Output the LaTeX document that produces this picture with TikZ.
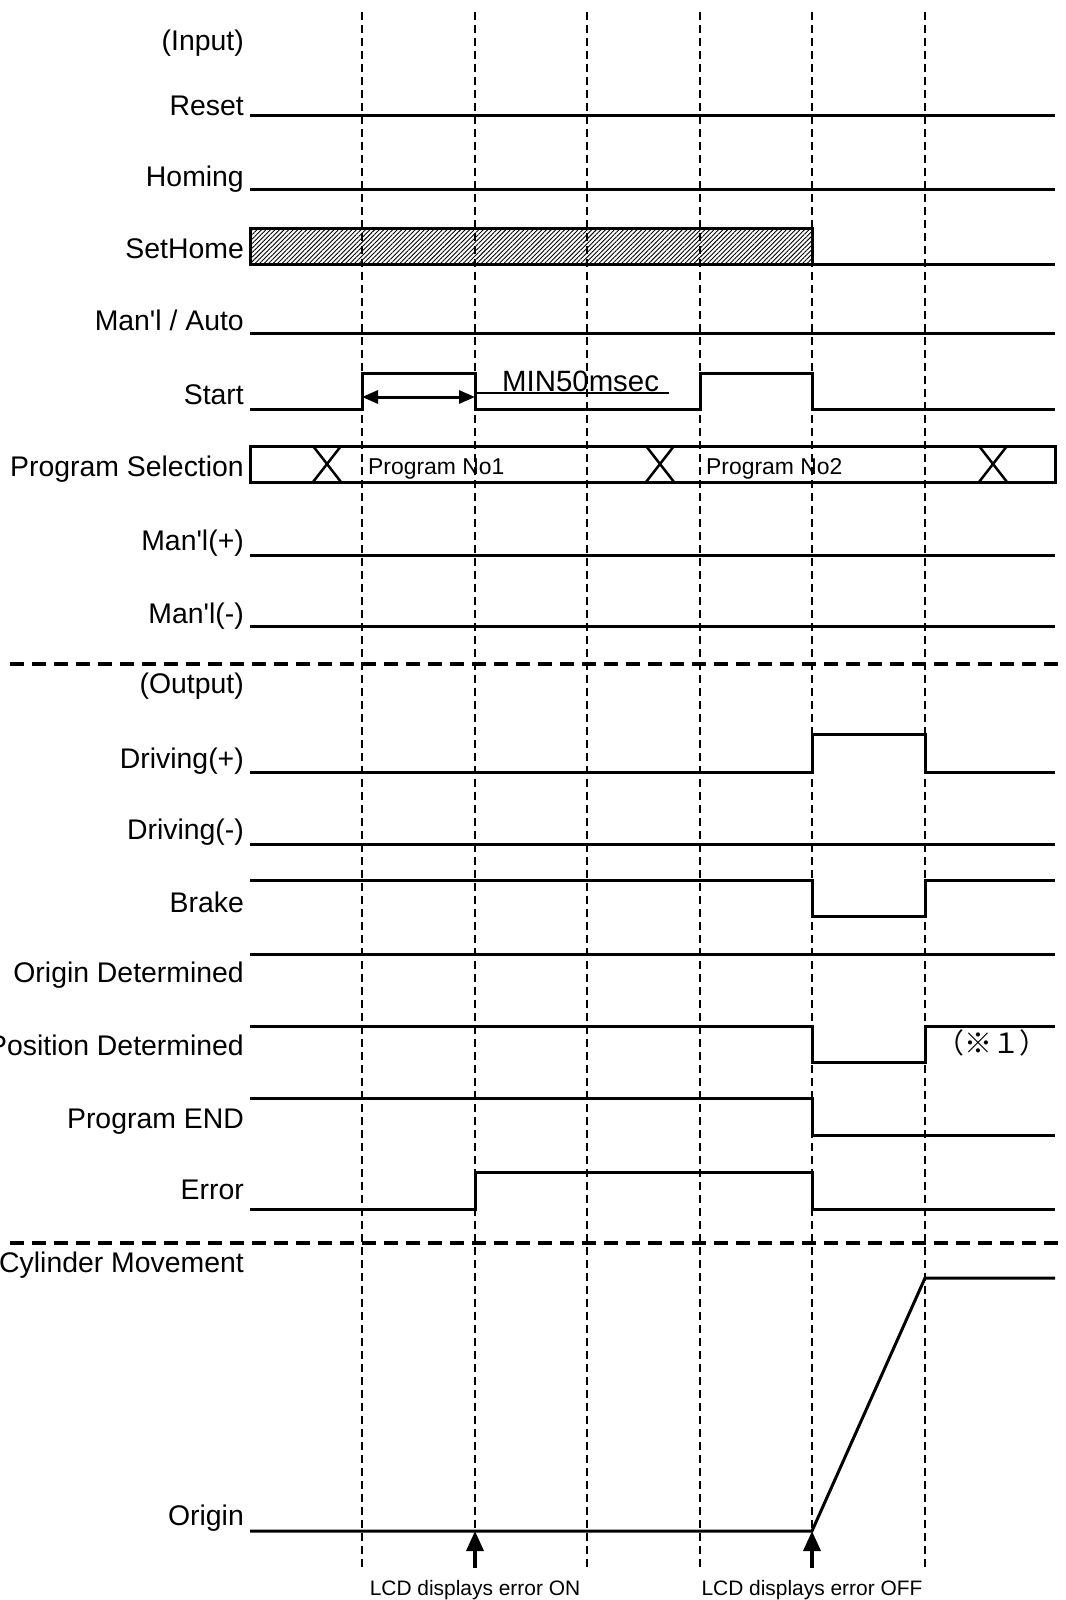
\documentclass[tikz,border=0pt]{standalone}
\usepackage{fontspec}
\newfontfamily\arial{Liberation Sans}
\newfontfamily\cjk{Noto Sans CJK JP}
\usetikzlibrary{arrows.meta,patterns.meta}
\begin{document}
\begin{tikzpicture}[x=1bp,y=-1bp,
  sig/.style={line width=3bp, line join=miter},
  gridline/.style={line width=2bp, dash pattern=on 8bp off 5bp},
  sepline/.style={line width=3.5bp, dash pattern=on 14bp off 8bp},
  lab/.style={anchor=base east, inner sep=0pt, font=\arial\fontsize{28.5}{34}\selectfont},
  small/.style={inner sep=0pt, font=\arial\fontsize{23}{28}\selectfont},
  foot/.style={inner sep=0pt, font=\arial\fontsize{21}{25}\selectfont},
  bigarrow/.style={line width=3.5bp, -{Triangle[length=20bp,width=17bp]}},
  dimarrow/.style={line width=3bp, {Triangle[length=16bp,width=13bp]}-{Triangle[length=16bp,width=13bp]}},
  xmark/.style={line width=2.5bp}]
\useasboundingbox (0,0) rectangle (1065,1600);

% time grid
\foreach \x in {362,475,587,700,812,925}
  \draw[gridline] (\x,12) -- (\x,1570);

% labels
\node[lab] (lInput) at (244,51) {(Input)};
\node[lab] (lReset) at (244,116) {Reset};
\node[lab] (lHoming) at (244,186.5) {Homing};
\node[lab] (lSetHome) at (244,258) {SetHome};
\node[lab] (lManAuto) at (244,330) {Man\char"0027 l / Auto};
\node[lab] (lStart) at (244,404) {Start};
\node[lab] (lProgSel) at (244,476) {Program Selection};
\node[lab] (lManP) at (244,550) {Man\char"0027 l(+)};
\node[lab] (lManM) at (244,623) {Man\char"0027 l(-)};
\node[lab] (lOutput) at (244,693) {(Output)};
\node[lab] (lDrvP) at (244,768) {Driving(+)};
\node[lab] (lDrvM) at (244,839) {Driving(-)};
\node[lab] (lBrake) at (244,912) {Brake};
\node[lab] (lOrigDet) at (244,982) {Origin Determined};
\node[lab] (lPosDet) at (244,1055) {Position Determined};
\node[lab] (lProgEnd) at (244,1128) {Program END};
\node[lab] (lError) at (244,1199) {Error};
\node[lab] (lCyl) at (244,1272) {Cylinder Movement};
\node[lab] (lOrigin) at (244,1525) {Origin};

% separators
\draw[sepline] (10,664) -- (1061,664);
\draw[sepline] (10,1243) -- (1061,1243);

% input signals
\draw[sig] (250,116) -- (1055,116);
\draw[sig] (250,189) -- (1055,189);
\draw[sig, pattern={Lines[angle=45,distance=3.2bp,line width=0.9bp]}] (250,228) rectangle (812,264);
\draw[sig] (812,264) -- (1055,264);
\draw[sig] (250,333) -- (1055,333);
\draw[sig] (250,409) -| (362,373) -| (475,409) -| (700,373) -| (812,409) -- (1055,409);
\draw[dimarrow] (362,397) -- (475,397);
\draw[line width=1.8bp] (475,393) -- (669,393);
\node[anchor=base west, inner sep=0pt, font=\arial\fontsize{29.5}{34}\selectfont] (tMin) at (502,391) {MIN50msec};

\draw[sig] (250,446) rectangle (1055,482);
\foreach \c in {327,660,993}
  \draw[xmark] (\c-14,446) -- (\c+14,482) (\c-14,482) -- (\c+14,446);
\node[small, anchor=base west] (tP1) at (368,474.5) {Program No1};
\node[small, anchor=base west] (tP2) at (706,474.5) {Program No2};

\draw[sig] (250,555) -- (1055,555);
\draw[sig] (250,626) -- (1055,626);

% output signals
\draw[sig] (250,772) -| (812,734) -| (925,772) -- (1055,772);
\draw[sig] (250,844) -- (1055,844);
\draw[sig] (250,880) -| (812,916) -| (925,880) -- (1055,880);
\draw[sig] (250,954) -- (1055,954);
\draw[sig] (250,1026) -| (812,1062) -| (925,1026) -- (1055,1026);
\node[inner sep=0pt, font=\cjk\fontsize{28}{32}\selectfont] (tNote) at (992,1043) {（※１）};
\draw[sig] (250,1098) -| (812,1135) -- (1055,1135);
\draw[sig] (250,1209) -| (475,1172) -| (812,1209) -- (1055,1209);

% cylinder
\draw[sig] (250,1531) -- (812,1531) -- (925,1278) -- (1055,1278);

% bottom markers
\coordinate (eOn) at (475,1531);
\coordinate (eOff) at (812,1531);
\coordinate (sOn) at (475,1568);
\coordinate (sOff) at (812,1568);
\draw[bigarrow] (sOn) -- (eOn);
\draw[bigarrow] (sOff) -- (eOff);
\node[foot, anchor=base] (lcdOn) at (475,1595.5) {LCD displays error ON};
\node[foot, anchor=base] (lcdOff) at (812,1595.5) {LCD displays error OFF};
\end{tikzpicture}
\end{document}
